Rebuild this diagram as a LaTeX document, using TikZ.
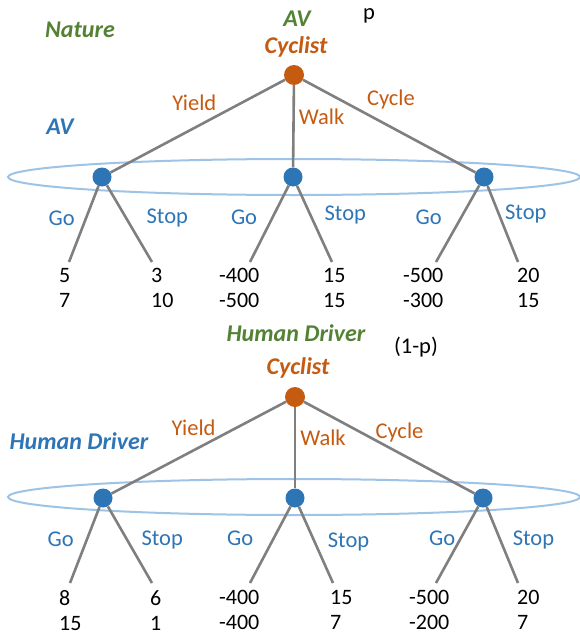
\documentclass[tikz,border=0pt]{standalone}
\usepackage{fontspec}
\setmainfont{Carlito}
\usepackage{tikz}
\usetikzlibrary{positioning}
\definecolor{natgreen}{HTML}{548235}
\definecolor{cycorange}{HTML}{C55A11}
\definecolor{avblue}{HTML}{2E75B6}
\definecolor{infoblue}{HTML}{9DC3E6}
\definecolor{branchgray}{HTML}{7F7F7F}

\begin{document}
\begin{tikzpicture}[x=1pt, y=-1pt,
        player/.style={font=\fontsize{24}{28}\selectfont\bfseries\itshape, inner sep=0pt},
        cdot/.style={circle, fill=cycorange, minimum size=20pt, inner sep=0pt},
        adot/.style={circle, fill=avblue, minimum size=19pt, inner sep=0pt},
        branch/.style={draw=branchgray, line width=2.6pt},
        info/.style={draw=infoblue, line width=2pt},
        act/.style={font=\fontsize{22.5}{26}\selectfont, inner sep=0pt},
        payoff/.style={font=\fontsize{22}{25}\selectfont, align=left, anchor=north west, inner sep=0pt}]
            \useasboundingbox (0,0) rectangle (580,637);

            \node[player, text=natgreen] (nat) at (80,30) {Nature};

            \node[player, text=natgreen] (typ1) at (297,19) {AV};
            \node[act] (prob1) at (369,16) {p};
            \node[player, text=cycorange] (cyl1) at (296,47) {Cyclist};
            \node[player, text=avblue] (pav) at (60,127) {AV};
            \draw[info] (294,177) ellipse [x radius=286, y radius=18];
            \node[cdot] (cyc1) at (294,75) {};
            \node[adot] (av1) at (102,177) {};
            \node[adot] (av2) at (293,177) {};
            \node[adot] (av3) at (484,177) {};
            \coordinate (z1) at (69,262);
            \coordinate (z2) at (152,262);
            \coordinate (z3) at (250,262);
            \coordinate (z4) at (332,262);
            \coordinate (z5) at (436,262);
            \coordinate (z6) at (518,262);
            \draw[branch] (cyc1) -- node[act, text=cycorange, pos=0.52, above=16pt] (yld1) {Yield} (av1);
            \draw[branch] (cyc1) -- node[act, text=cycorange, pos=0.38, right=4pt] (wlk1) {Walk} (av2);
            \draw[branch] (cyc1) -- node[act, text=cycorange, pos=0.51, above=17pt] (cyc1l) {Cycle} (av3);
            \draw[branch] (av1) -- node[act, text=avblue, pos=0.42, left=10pt] (go1) {Go} (z1);
            \draw[branch] (av1) -- node[act, text=avblue, pos=0.43, right=19pt] (st1) {Stop} (z2);
            \draw[branch] (av2) -- node[act, text=avblue, pos=0.42, left=14pt] (go2) {Go} (z3);
            \draw[branch] (av2) -- node[act, text=avblue, pos=0.38, right=13pt] (st2) {Stop} (z4);
            \draw[branch] (av3) -- node[act, text=avblue, pos=0.42, left=18pt] (go3) {Go} (z5);
            \draw[branch] (av3) -- node[act, text=avblue, pos=0.37, right=5pt] (st3) {Stop} (z6);
            \node[payoff] (u1) at (59,268) {5\\7};
            \node[payoff] (u2) at (151,268) {3\\10};
            \node[payoff] (u3) at (219,268) {-400\\-500};
            \node[payoff] (u4) at (323,268) {15\\15};
            \node[payoff] (u5) at (403,268) {-500\\-300};
            \node[payoff] (u6) at (517,268) {20\\15};

            \node[player, text=natgreen] (typ2) at (296,333) {Human Driver};
            \node[act] (prob2) at (416,347) {(1-p)};
            \node[player, text=cycorange] (cyl2) at (298,368) {Cyclist};
            \node[player, text=avblue] (phd) at (79,441) {Human Driver};
            \draw[info] (294,497) ellipse [x radius=286, y radius=18];
            \node[cdot] (cyc2) at (295,397) {};
            \node[adot] (hd1) at (103,498) {};
            \node[adot] (hd2) at (295,498) {};
            \node[adot] (hd3) at (483,498) {};
            \coordinate (y1) at (70,583);
            \coordinate (y2) at (152,583);
            \coordinate (y3) at (250,583);
            \coordinate (y4) at (333,583);
            \coordinate (y5) at (436,583);
            \coordinate (y6) at (518,583);
            \draw[branch] (cyc2) -- node[act, text=cycorange, pos=0.53, above=13pt] (yld2) {Yield} (hd1);
            \draw[branch] (cyc2) -- node[act, text=cycorange, pos=0.38, right=4pt] (wlk2) {Walk} (hd2);
            \draw[branch] (cyc2) -- node[act, text=cycorange, pos=0.56, above=10pt] (cyc2l) {Cycle} (hd3);
            \draw[branch] (hd1) -- node[act, text=avblue, pos=0.42, left=12pt] (go4) {Go} (y1);
            \draw[branch] (hd1) -- node[act, text=avblue, pos=0.44, right=13pt] (st4) {Stop} (y2);
            \draw[branch] (hd2) -- node[act, text=avblue, pos=0.42, left=19pt] (go5) {Go} (y3);
            \draw[branch] (hd2) -- node[act, text=avblue, pos=0.46, right=12pt] (st5) {Stop} (y4);
            \draw[branch] (hd3) -- node[act, text=avblue, pos=0.42, left=4pt] (go6) {Go} (y5);
            \draw[branch] (hd3) -- node[act, text=avblue, pos=0.44, right=11pt] (st6) {Stop} (y6);
            \node[payoff] (v1) at (59,590) {8\\15};
            \node[payoff] (v2) at (150,590) {6\\1};
            \node[payoff] (v3) at (219,590) {-400\\-400};
            \node[payoff] (v4) at (330,590) {15\\7};
            \node[payoff] (v5) at (409,590) {-500\\-200};
            \node[payoff] (v6) at (517,590) {20\\7};
        \end{tikzpicture}
\end{document}
